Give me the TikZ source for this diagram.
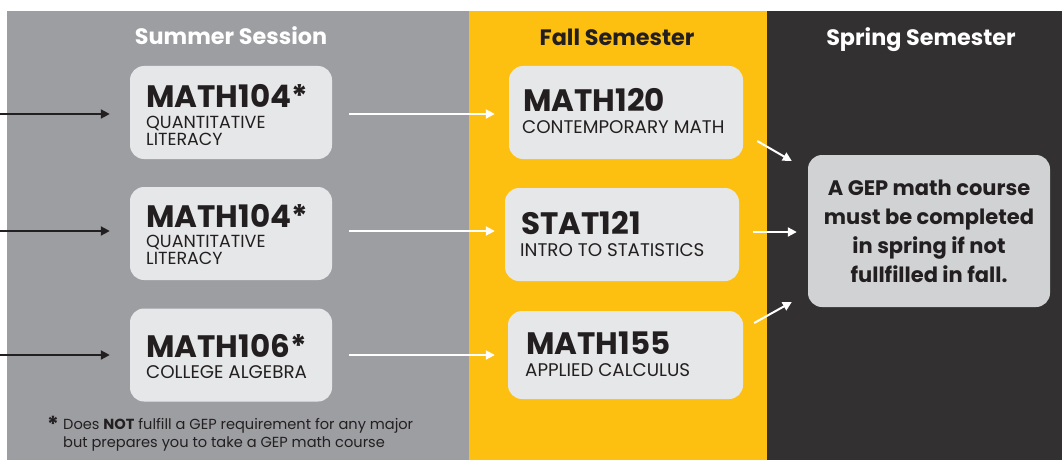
\documentclass[tikz,border=0pt]{standalone}
\usepackage{fontspec}
\setmainfont{Poppins}
\usetikzlibrary{arrows.meta,calc}
\definecolor{summergray}{HTML}{9D9EA2}
\definecolor{fallyellow}{HTML}{FDC010}
\definecolor{springdark}{HTML}{323031}
\definecolor{boxfill}{HTML}{E6E7E8}
\definecolor{noteboxfill}{HTML}{D1D2D4}
\definecolor{ink}{HTML}{231F20}
\tikzset{
  coursebox/.style={fill=boxfill, rounded corners=14pt, inner sep=0pt, minimum height=93pt},
  notebox/.style={fill=noteboxfill, rounded corners=14pt, inner sep=0pt, minimum width=242pt, minimum height=152pt,
    align=center, text=ink, font=\fontsize{21}{29}\selectfont\bfseries},
  coursecode/.style={anchor=base west, inner sep=0pt, text=ink, font=\fontsize{31}{31}\selectfont\bfseries},
  coursename/.style={anchor=base west, inner sep=0pt, text=ink, font=\fontsize{17.5}{15}\selectfont},
  longname/.style={anchor=base west, inner sep=0pt, text=ink, font=\fontsize{18.3}{15}\selectfont},
  head/.style={anchor=base, inner sep=0pt, font=\fontsize{22.3}{23}\selectfont\bfseries},
  notetext/.style={anchor=base west, inner sep=0pt, text=ink, font=\fontsize{14.6}{18}\selectfont},
  blackarr/.style={draw=ink, line width=2pt, -{Triangle[length=9pt,width=9pt]}},
  whitearr/.style={draw=white, line width=2pt, -{Triangle[length=9pt,width=9pt]}},
}
\begin{document}
\begin{tikzpicture}[x=1pt,y=-1pt]
\useasboundingbox (0,0) rectangle (1062,460);
\fill[white] (0,0) rectangle (1062,460);
\fill[summergray] (7,11) rectangle (469,460);
\fill[fallyellow] (469,11) rectangle (767,460);
\fill[springdark] (767,11) rectangle (1062,460);

% headers
\node[head, text=white] (hsum) at (231,45) {Summer Session};
\node[head, text=ink] (hfall) at (617,46) {Fall Semester};
\node[head, text=white] (hspr) at (921,46) {Spring Semester};

% summer boxes
\node[coursebox, minimum width=202pt] (b1) at (231,112.5) {};
\node[coursebox, minimum width=202pt] (b2) at (231,233.5) {};
\node[coursebox, minimum width=202pt] (b3) at (231,355) {};
\node[coursecode] (b1c) at (146,107) {MATH104*};
\node[coursename] (b1n) at (146,128.8) {QUANTITATIVE};
\node[coursename] (b1m) at (146,145) {LITERACY};
\node[coursecode] (b2c) at (146,227) {MATH104*};
\node[coursename] (b2n) at (146,247.8) {QUANTITATIVE};
\node[coursename] (b2m) at (146,264) {LITERACY};
\node[coursecode] (b3c) at (146,357) {MATH106*};
\node[longname] (b3n) at (146,378) {COLLEGE ALGEBRA};

% fall boxes
\node[coursebox, minimum width=234pt] (f1) at (626,112.5) {};
\node[coursebox, minimum width=234pt] (f2) at (622,234.5) {};
\node[coursebox, minimum width=235pt, minimum height=88pt] (f3) at (625.5,355) {};
\node[coursecode] (f1c) at (523,111) {MATH120};
\node[longname] (f1n) at (522,133) {CONTEMPORARY MATH};
\node[coursecode] (f2c) at (521,234) {STAT121};
\node[longname] (f2n) at (520,256) {INTRO TO STATISTICS};
\node[coursecode] (f3c) at (526,354) {MATH155};
\node[longname] (f3n) at (525,376) {APPLIED CALCULUS};

% spring box
\node[notebox] (s) at (929,231) {A GEP math course\\must be completed\\in spring if not\\fullfilled in fall.};

% footnote
\node[anchor=base east, inner sep=0pt, text=ink, font=\fontsize{22}{22}\selectfont\bfseries] (star) at (59,432) {*};
\node[notetext] (note1) at (63,429) {Does \textbf{NOT} fulfill a GEP requirement for any major};
\node[notetext] (note2) at (63,447.5) {but prepares you to take a GEP math course};

% incoming arrows
\coordinate (in1) at (0,114);
\coordinate (in2) at (0,231);
\coordinate (in3) at (0,355);
\draw[blackarr, shorten >=20pt] (in1) -- (in1 -| b1.west);
\draw[blackarr, shorten >=20pt] (in2) -- (in2 -| b2.west);
\draw[blackarr, shorten >=20pt] (in3) -- (in3 -| b3.west);

% summer -> fall
\draw[whitearr, shorten <=17pt, shorten >=14pt] (in1 -| b1.east) -- (in1 -| f1.west);
\draw[whitearr, shorten <=17pt, shorten >=10pt] (in2 -| b2.east) -- (in2 -| f2.west);
\draw[whitearr, shorten <=17pt, shorten >=13pt] (in3 -| b3.east) -- (in3 -| f3.west);

% fall -> spring
\draw[whitearr] ($(f1.east)+(14,28.5)$) -- ($(s.west)+(-16,-70)$);
\draw[whitearr] ($(f2.east)+(14,-2.5)$) -- ($(s.west)+(-11,1)$);
\draw[whitearr] ($(f3.east)+(11,-32)$) -- ($(s.west)+(-16,71)$);
\end{tikzpicture}
\end{document}
